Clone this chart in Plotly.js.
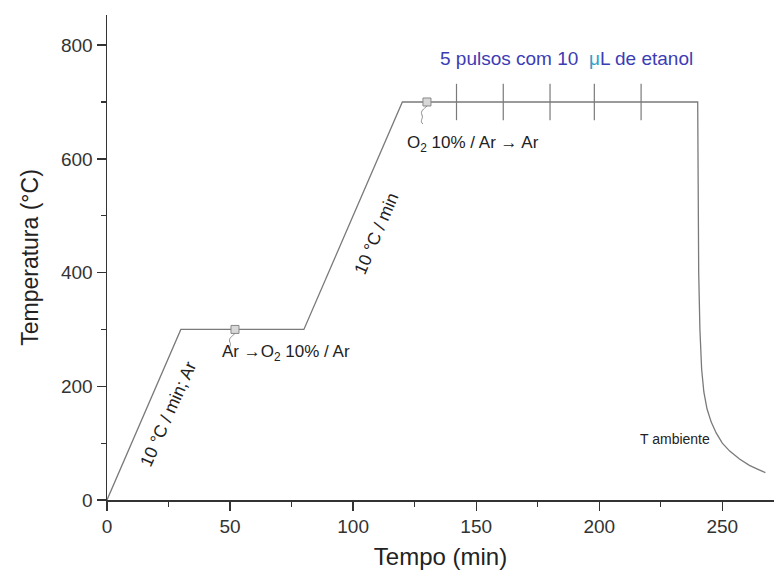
<!DOCTYPE html>
<html>
<head>
<meta charset="utf-8">
<script src="https://cdn.plot.ly/plotly-3.0.1.min.js"></script>
<style>html,body{margin:0;padding:0;background:#fff;}#chart{width:774px;height:570px;}</style>
</head>
<body>
<div id="chart"></div>
<script>
// Temperature program (time in min, temperature in °C)
var timeMin = [0, 30, 80, 120, 240, 240.1, 240.4, 240.9, 241.6, 242.5, 243.8, 245.5, 247.5, 250, 253, 257, 261, 264.5, 267.5];
var tempC   = [0, 300, 300, 700, 700, 550, 400, 300, 230, 190, 160, 137, 118, 100, 86, 72, 61, 54, 48];

// Gas switch points (small squares)
var switchTime = [52, 130];
var switchTemp = [300, 700];

// Ethanol pulses
var pulseTime = [142, 161, 180, 198, 217];
var pulseTemp = [700, 700, 700, 700, 700];

var xTicks = [0, 50, 100, 150, 200, 250];
var yTicks = [0, 200, 400, 600, 800];

var lineCol = '#7a7a7a';
var txtCol = '#333333';
var font = 'Liberation Sans, Arial, sans-serif';

var traces = [
  {x: timeMin, y: tempC, mode: 'lines', line: {color: lineCol, width: 1.3}, hoverinfo: 'skip'},
  {x: pulseTime, y: pulseTemp, mode: 'markers',
   marker: {symbol: 'line-ns-open', size: 26, color: lineCol, line: {color: lineCol, width: 1.2}}, hoverinfo: 'skip'},
  {x: switchTime, y: switchTemp, mode: 'markers',
   marker: {symbol: 'square', size: 8, color: '#d8d8d8', line: {color: '#888', width: 1}}, hoverinfo: 'skip'}
];

// squiggly connectors below each gas switch square (pixel offsets from the square)
var shapes = switchTime.map(function (t, i) {
  return {
    type: 'path', xref: 'x', yref: 'y',
    xsizemode: 'pixel', ysizemode: 'pixel',
    xanchor: t, yanchor: switchTemp[i],
    path: 'M0,-4 C-3,-7 -7,-9 -5,-13 C-3,-16 -8,-19 -4,-22',
    line: {color: '#8a8a8a', width: 1}
  };
});

var layout = {
  width: 774, height: 570,
  margin: {l: 107, r: 0, t: 15, b: 70},
  paper_bgcolor: '#fff', plot_bgcolor: '#fff',
  showlegend: false,
  font: {family: font, color: txtCol},
  shapes: shapes,
  xaxis: {
    range: [0, 271], tickvals: xTicks, ticktext: xTicks.map(String),
    showgrid: false, zeroline: false, showline: true, linecolor: '#333', linewidth: 1.5,
    ticks: 'outside', ticklen: 9, tickwidth: 1.3, tickcolor: '#333',
    minor: {dtick: 25, tick0: 0, ticks: 'outside', ticklen: 5, tickwidth: 1.2, tickcolor: '#333'},
    tickfont: {size: 19, color: '#333'},
    automargin: false,
    title: {text: 'Tempo (min)', font: {size: 24, color: '#222'}, standoff: 12}
  },
  yaxis: {
    range: [0, 853], tickvals: yTicks, ticktext: yTicks.map(String),
    showgrid: false, zeroline: false, showline: true, linecolor: '#333', linewidth: 1.5,
    ticks: 'outside', ticklen: 9, tickwidth: 1.3, tickcolor: '#333',
    minor: {dtick: 100, tick0: 0, ticks: 'outside', ticklen: 5, tickwidth: 1.2, tickcolor: '#333'},
    tickfont: {size: 19, color: '#333'},
    automargin: false,
    title: {text: 'Temperatura (°C)', font: {size: 23, color: '#222'}, standoff: 16}
  },
  annotations: [
    {x: 24.7, y: 152, text: '10 °C / min; Ar', showarrow: false, textangle: -66,
     font: {size: 17.5, color: '#222'}},
    {x: 72.6, y: 258, text: 'Ar \u2192O<sub>2</sub> 10% / Ar', showarrow: false,
     font: {size: 17, color: '#222'}},
    {x: 109.6, y: 469, text: '10 °C / min', showarrow: false, textangle: -67,
     font: {size: 17.5, color: '#222'}},
    {x: 148.7, y: 627, text: 'O<sub>2</sub> 10% / Ar \u2192 Ar', showarrow: false,
     font: {size: 17, color: '#222'}},
    {x: 186.5, y: 777, text: '5 pulsos com 10  <span style="color:#2fa0c8">\u03bc</span>L de etanol', showarrow: false,
     font: {size: 19, color: '#3c3cb4'}},
    {x: 230.7, y: 108, text: 'T ambiente', showarrow: false,
     font: {size: 14, color: '#222'}}
  ]
};

Plotly.newPlot('chart', traces, layout, {displayModeBar: false, staticPlot: true});
</script>
</body>
</html>
